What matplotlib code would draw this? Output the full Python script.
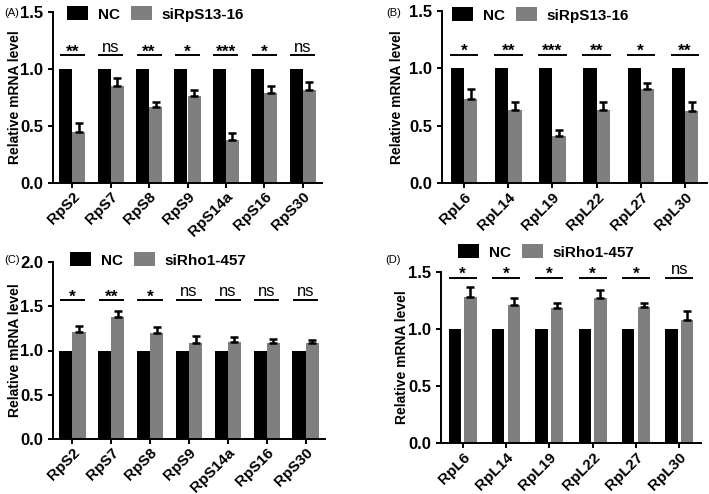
import numpy as np
import matplotlib

matplotlib.use("Agg")
import matplotlib.pyplot as plt
from matplotlib.patches import Patch

plt.rcParams["font.family"] = ["Liberation Sans", "DejaVu Sans"]

# Panel A: ribosomal small subunit genes after siRpS13-16
genes_a = ["RpS2", "RpS7", "RpS8", "RpS9", "RpS14a", "RpS16", "RpS30"]
nc_a = [1.0, 1.0, 1.0, 1.0, 1.0, 1.0, 1.0]
si_a = [0.45, 0.85, 0.67, 0.76, 0.38, 0.79, 0.82]
err_a = [0.08, 0.07, 0.04, 0.06, 0.06, 0.06, 0.07]
sig_a = ["**", "ns", "**", "*", "***", "*", "ns"]

# Panel B: large subunit genes after siRpS13-16
genes_b = ["RpL6", "RpL14", "RpL19", "RpL22", "RpL27", "RpL30"]
nc_b = [1.0, 1.0, 1.0, 1.0, 1.0, 1.0]
si_b = [0.73, 0.64, 0.41, 0.64, 0.82, 0.63]
err_b = [0.09, 0.07, 0.05, 0.07, 0.05, 0.08]
sig_b = ["*", "**", "***", "**", "*", "**"]

# Panel C: small subunit genes after siRho1-457
genes_c = ["RpS2", "RpS7", "RpS8", "RpS9", "RpS14a", "RpS16", "RpS30"]
nc_c = [1.0, 1.0, 1.0, 1.0, 1.0, 1.0, 1.0]
si_c = [1.21, 1.38, 1.20, 1.09, 1.10, 1.09, 1.09]
err_c = [0.07, 0.07, 0.07, 0.07, 0.05, 0.04, 0.03]
sig_c = ["*", "**", "*", "ns", "ns", "ns", "ns"]

# Panel D: large subunit genes after siRho1-457
genes_d = ["RpL6", "RpL14", "RpL19", "RpL22", "RpL27", "RpL30"]
nc_d = [1.0, 1.0, 1.0, 1.0, 1.0, 1.0]
si_d = [1.28, 1.21, 1.18, 1.27, 1.19, 1.08]
err_d = [0.09, 0.06, 0.05, 0.07, 0.04, 0.08]
sig_d = ["*", "*", "*", "*", "*", "ns"]

GRAY = "#7f7f7f"


def draw_panel(ax, genes, nc, si, err, sig, ymax, sig_y, width, offset):
    x = np.arange(len(genes))
    ax.bar(x - offset, nc, width, color="black", zorder=2)
    ax.bar(x + offset, si, width, color=GRAY, zorder=2)
    ax.errorbar(x + offset, si, yerr=[np.zeros(len(si)), err], fmt="none",
                ecolor="black", elinewidth=1.8, capsize=2.8, capthick=1.8, zorder=3)
    for xi, s in zip(x, sig):
        ax.plot([xi - 0.3, xi + 0.3], [sig_y, sig_y], color="black", lw=1.4)
        if s == "ns":
            ax.text(xi, sig_y + ymax * 0.004, s, ha="center", va="bottom", fontsize=12)
        else:
            ax.text(xi, sig_y - ymax * 0.025, s, ha="center", va="bottom",
                    fontsize=12.5, fontweight="bold")
    ticks = np.arange(0, ymax + 0.01, 0.5)
    ax.set_xlim(-0.5, len(genes) - 0.5)
    ax.set_ylim(0, ymax)
    ax.set_yticks(ticks)
    ax.set_yticklabels([f"{v:.1f}" for v in ticks])
    ax.set_xticks(x)
    ax.set_xticklabels(genes, rotation=45, ha="right", rotation_mode="anchor")
    ax.spines["top"].set_visible(False)
    ax.spines["right"].set_visible(False)
    ax.spines["left"].set_linewidth(1.4)
    ax.spines["bottom"].set_linewidth(1.4)
    ax.tick_params(axis="y", direction="out", width=1.4, length=3.5, labelsize=12)
    ax.tick_params(axis="x", direction="out", width=1.4, length=3.5, labelsize=11, pad=1.5)
    for lab in ax.get_xticklabels() + ax.get_yticklabels():
        lab.set_fontweight("bold")
    ax.set_ylabel("Relative mRNA level", fontsize=10, fontweight="bold")


def add_legend(fig, label, x, y):
    handles = [Patch(facecolor="black", label="NC"), Patch(facecolor=GRAY, label=label)]
    fig.legend(handles=handles, loc="center left", bbox_to_anchor=(x, y), ncol=2,
               frameon=False, borderpad=0, borderaxespad=0, handlelength=1.4,
               handleheight=1.0, columnspacing=0.75, handletextpad=0.6,
               prop={"weight": "bold", "size": 11})


fig = plt.figure(figsize=(7.09, 4.94), dpi=100)
W, H = 709.0, 494.0


def axes_px(left, right, top, bottom):
    return fig.add_axes([left / W, 1 - bottom / H, (right - left) / W, (bottom - top) / H])


ax_a = axes_px(53, 322, 12, 183)
ax_b = axes_px(442, 707, 11, 183)
ax_c = axes_px(53, 325, 262, 439)
ax_d = axes_px(441, 701, 272, 443)

draw_panel(ax_a, genes_a, nc_a, si_a, err_a, sig_a, 1.5, 1.12, 0.34, 0.17)
draw_panel(ax_b, genes_b, nc_b, si_b, err_b, sig_b, 1.5, 1.12, 0.30, 0.15)
draw_panel(ax_c, genes_c, nc_c, si_c, err_c, sig_c, 2.0, 1.57, 0.34, 0.17)
draw_panel(ax_d, genes_d, nc_d, si_d, err_d, sig_d, 1.5, 1.45, 0.29, 0.18)

ax_a.yaxis.set_label_coords(-0.115, 0.5)
ax_c.yaxis.set_label_coords(-0.115, 0.5)
ax_b.yaxis.set_label_coords(-0.143, 0.5)
ax_d.yaxis.set_label_coords(-0.123, 0.5)

add_legend(fig, "siRpS13-16", 67 / W, 1 - 14 / H)
add_legend(fig, "siRpS13-16", 452 / W, 1 - 15 / H)
add_legend(fig, "siRho1-457", 70 / W, 1 - 260 / H)
add_legend(fig, "siRho1-457", 458 / W, 1 - 252 / H)

for lab, px, py in [("(A)", 4, 13), ("(B)", 386, 13), ("(C)", 4, 260), ("(D)", 385, 260)]:
    fig.text(px / W, 1 - py / H, lab, fontsize=8, va="center", ha="left")

fig.savefig("out.png", dpi=100)
